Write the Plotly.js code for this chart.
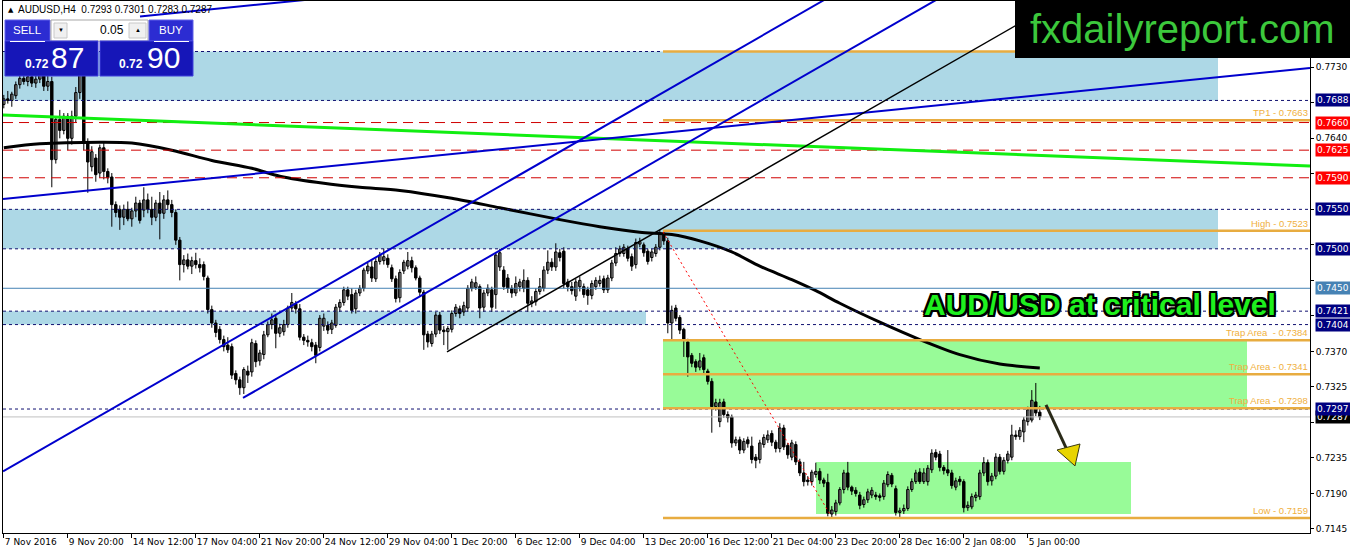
<!DOCTYPE html>
<html><head><meta charset="utf-8">
<script src="https://cdn.plot.ly/plotly-3.0.1.min.js"></script>
<style>html,body{margin:0;padding:0;background:#fff;}#chart{width:1350px;height:554px;}</style>
</head><body><div id="chart"></div>
<script>
// ---- candle data (price x 10000) ----
const opens = [
7683,7690,7688,7694,7708,7716,7712,7718,7710,7715,
7720,7706,7712,7613,7664,7650,7668,7640,7668,7698,
7760,7634,7604,7615,7596,7628,7598,7591,7556,7550,
7540,7550,7538,7548,7558,7549,7562,7550,7540,7558,
7545,7562,7556,7546,7511,7480,7486,7478,7485,7480,
7480,7463,7423,7406,7398,7385,7378,7376,7342,7334,
7324,7345,7344,7380,7358,7366,7391,7404,7412,7393,
7395,7404,7425,7430,7424,7388,7384,7381,7378,7375,
7402,7403,7398,7403,7426,7432,7448,7442,7424,7444,
7450,7472,7477,7462,7484,7485,7488,7476,7462,7438,
7472,7478,7485,7476,7463,7445,7392,7380,7392,7416,
7397,7395,7398,7418,7424,7420,7425,7450,7451,7452,
7426,7444,7448,7442,7477,7473,7463,7450,7444,7452,
7450,7460,7431,7433,7446,7450,7473,7483,7477,7495,
7497,7458,7452,7440,7452,7452,7448,7441,7452,7456,
7462,7448,7463,7482,7494,7494,7500,7490,7480,7506,
7505,7497,7489,7494,7502,7518,7510,7406,7425,7413,
7398,7382,7365,7357,7350,7362,7345,7332,7300,7281,
7306,7290,7287,7254,7258,7245,7258,7250,7236,7233,
7252,7258,7266,7255,7247,7273,7251,7236,7252,7230,
7216,7207,7205,7214,7218,7207,7204,7164,7167,7178,
7195,7216,7198,7194,7188,7176,7182,7188,7188,7187,
7186,7201,7213,7196,7166,7168,7171,7195,7205,7217,
7205,7205,7220,7242,7240,7223,7220,7216,7198,7208,
7205,7172,7173,7185,7186,7216,7229,7206,7212,7236,
7218,7232,7236,7264,7262,7268,7281,7283,7306,7293];
const highs = [
7695,7700,7699,7712,7722,7724,7726,7724,7720,7728,
7726,7722,7718,7668,7676,7672,7672,7675,7705,7778,
7768,7640,7630,7620,7632,7634,7602,7596,7560,7555,
7556,7560,7552,7566,7562,7578,7570,7566,7562,7572,
7568,7574,7562,7550,7515,7492,7494,7490,7495,7488,
7484,7466,7428,7410,7402,7390,7388,7380,7346,7338,
7350,7352,7386,7384,7372,7396,7408,7418,7416,7405,
7410,7428,7444,7434,7430,7392,7390,7386,7382,7416,
7418,7408,7410,7430,7436,7452,7452,7450,7448,7454,
7476,7482,7486,7488,7496,7500,7493,7480,7466,7474,
7486,7496,7490,7479,7466,7448,7396,7396,7420,7420,
7402,7402,7422,7430,7428,7433,7454,7462,7465,7455,
7448,7455,7452,7496,7500,7478,7468,7454,7465,7462,
7474,7464,7440,7450,7463,7478,7498,7488,7507,7500,
7502,7462,7458,7462,7465,7456,7452,7460,7464,7466,
7466,7467,7486,7502,7504,7506,7504,7494,7513,7514,
7508,7500,7500,7506,7524,7523,7514,7428,7429,7416,
7400,7386,7368,7360,7368,7366,7348,7336,7310,7310,
7310,7294,7290,7262,7262,7260,7262,7262,7240,7258,
7265,7270,7270,7258,7279,7277,7254,7258,7256,7234,
7230,7212,7220,7229,7222,7210,7215,7174,7182,7198,
7220,7230,7200,7198,7192,7186,7196,7198,7192,7190,
7207,7218,7216,7200,7172,7176,7199,7209,7220,7222,
7222,7226,7246,7246,7244,7226,7245,7220,7210,7212,
7208,7180,7190,7192,7220,7236,7233,7216,7241,7240,
7236,7244,7277,7270,7274,7287,7300,7321,7330,7301];
const lows = [
7678,7684,7680,7690,7703,7708,7706,7705,7704,7710,
7700,7700,7578,7608,7640,7645,7625,7632,7660,7690,
7625,7571,7598,7585,7590,7588,7583,7528,7540,7524,
7530,7535,7528,7540,7532,7540,7545,7530,7535,7512,
7538,7550,7540,7505,7460,7470,7474,7468,7475,7470,
7460,7418,7400,7388,7380,7370,7368,7335,7328,7315,
7316,7330,7338,7350,7352,7360,7388,7398,7374,7388,
7390,7400,7420,7418,7384,7378,7376,7370,7355,7370,
7396,7392,7392,7400,7420,7428,7435,7418,7418,7440,
7446,7468,7458,7458,7480,7480,7476,7458,7432,7432,
7468,7474,7470,7460,7440,7372,7375,7376,7388,7392,
7378,7372,7394,7414,7412,7415,7420,7446,7448,7412,
7420,7440,7420,7424,7472,7448,7444,7438,7440,7446,
7445,7420,7426,7428,7442,7446,7468,7472,7472,7484,
7450,7446,7442,7434,7446,7438,7429,7436,7448,7452,
7444,7444,7459,7478,7490,7490,7484,7472,7475,7502,
7490,7480,7484,7490,7498,7505,7393,7384,7408,7392,
7363,7338,7350,7344,7346,7342,7328,7267,7295,7274,
7286,7280,7248,7250,7240,7241,7248,7228,7222,7228,
7248,7254,7250,7242,7242,7245,7234,7232,7226,7212,
7199,7200,7200,7210,7202,7198,7161,7160,7162,7175,
7190,7194,7188,7186,7170,7172,7178,7184,7182,7180,
7182,7198,7198,7162,7160,7164,7168,7192,7202,7202,
7202,7200,7216,7232,7218,7214,7212,7196,7194,7200,
7166,7168,7170,7180,7182,7212,7200,7200,7208,7214,
7214,7228,7232,7258,7258,7255,7276,7280,7288,7283];
const closes = [
7690,7688,7696,7708,7716,7712,7718,7710,7715,7720,
7706,7712,7613,7664,7650,7668,7640,7668,7698,7760,
7634,7610,7623,7594,7628,7598,7590,7556,7546,7540,
7550,7538,7548,7558,7536,7562,7550,7540,7558,7545,
7562,7556,7546,7511,7480,7486,7478,7485,7480,7476,
7465,7423,7406,7394,7385,7376,7372,7340,7334,7324,
7347,7340,7381,7357,7368,7391,7404,7410,7393,7400,
7404,7425,7432,7424,7388,7384,7382,7376,7365,7412,
7412,7397,7406,7426,7432,7448,7440,7422,7444,7450,
7473,7478,7463,7484,7492,7490,7480,7462,7437,7470,
7483,7485,7476,7463,7445,7391,7382,7392,7416,7397,
7395,7399,7418,7426,7418,7428,7450,7458,7457,7425,
7444,7450,7426,7492,7495,7452,7450,7444,7456,7458,
7460,7431,7434,7446,7452,7473,7483,7477,7496,7489,
7456,7452,7447,7458,7460,7442,7441,7456,7460,7460,
7448,7463,7482,7494,7500,7502,7488,7478,7508,7509,
7495,7484,7496,7502,7520,7510,7406,7422,7412,7397,
7385,7363,7355,7350,7358,7347,7332,7300,7305,7305,
7290,7286,7254,7258,7245,7256,7253,7233,7232,7254,
7261,7264,7255,7247,7273,7249,7239,7254,7230,7216,
7205,7205,7217,7218,7207,7203,7165,7169,7178,7195,
7216,7198,7193,7190,7175,7182,7192,7194,7186,7185,
7203,7214,7202,7166,7168,7171,7195,7205,7216,7205,
7216,7222,7241,7236,7223,7219,7216,7200,7206,7205,
7172,7175,7186,7188,7216,7229,7205,7212,7236,7218,
7232,7240,7264,7262,7270,7283,7296,7308,7292,7287];

const tickIndex = [0,16,32,48,64,80,96,112,128,144,160,176,192,208,224,240,256];
const tickLabels = ['7 Nov 2016','9 Nov 20:00','14 Nov 12:00','17 Nov 04:00','21 Nov 20:00','24 Nov 12:00','29 Nov 04:00','1 Dec 20:00','6 Dec 12:00','9 Dec 04:00','13 Dec 20:00','16 Dec 12:00','21 Dec 04:00','23 Dec 20:00','28 Dec 16:00','2 Jan 08:00','5 Jan 00:00'];
const priceTicks = [0.7730,0.7685,0.7640,0.7595,0.7550,0.7505,0.7460,0.7415,0.7370,0.7325,0.7280,0.7235,0.7190,0.7145];
// labels hidden behind the coloured price boxes are left blank
const priceTickText = ['0.7730','','0.7640','','','','','','0.7370','0.7325','','0.7235','0.7190','0.7145'];

// moving average
const maIndex = [0,9,24,32,42,52,62,69,80,89,99,112,124,139,149,159,167,174,182,189,197,203,209,219,229,239,249,259];
const maValues = [0.7628,0.7633,0.7635,0.7634,0.7625,0.7612,0.7602,0.7592,0.7583,0.7578,0.7574,0.7564,0.7552,0.7537,0.7528,0.7521,0.7518,0.7510,0.7496,0.7478,0.7461,0.7447,0.7431,0.7407,0.7385,0.7366,0.7354,0.7349];

// horizontal levels
const dashedLevels = [0.7750,0.7688,0.7550,0.7500,0.7421,0.7404,0.7297];
const redLevels = [0.7660,0.7625,0.7590];
const orangeLevels = [0.7750,0.7663,0.7523,0.7384,0.7341,0.7298,0.7159];
const orangeLabels = ['', 'TP1 - 0.7663','High - 0.7523','Trap Area&nbsp; - 0.7384','Trap Area - 0.7341','Trap Area - 0.7298','Low - 0.7159'];
const boxLevels = [0.7688,0.7660,0.7625,0.7590,0.7550,0.7500,0.7450,0.7421,0.7404,0.7287,0.7297];
const boxColors = ['#000080','#ff0000','#ff0000','#ff0000','#000080','#000080','#4682b4','#000080','#000080','#000000','#000080'];

// zones [x0, x1, y0, y1] in bar index / price
const blueZones = [[-0.2,303.55,0.7688,0.7750],[-0.2,303.55,0.7500,0.7550],[-0.2,160.55,0.7404,0.7421]];
const greenZones = [[164.8,310.8,0.7298,0.7384],[203.05,281.8,0.7164,0.7230]];

// trend lines [x0, y0, x1, y1]
const blueLines = [[-0.2,0.75631,326.55,0.77291],[34.05,0.77944,80,0.78177],[-0.2,0.7218,205,0.7815],[59.8,0.7311,234,0.7818]];
const blackLine = [110.8,0.73693,264.3,0.78158];
const greenLine = [-0.2,0.76696,326.55,0.76049];
const redDotLine = [164.8,0.75213,206.8,0.71615];

const X0 = -0.2, X1 = 326.55;
const PX = x => (x-3)/1307;
const PY = y => (533-y)/532;

// ---- traces ----
const wx = [], wy = [];
const bullX=[], bullB=[], bullH=[], bearX=[], bearB=[], bearH=[];
for (let i=0;i<opens.length;i++){
  wx.push(i,i,null); wy.push(lows[i]/1e4, highs[i]/1e4, null);
  const o=opens[i]/1e4, c=closes[i]/1e4;
  const h = Math.max(Math.abs(c-o), 0.00004);
  if (c>=o){ bullX.push(i); bullB.push(Math.min(o,c)); bullH.push(h); }
  else { bearX.push(i); bearB.push(Math.min(o,c)); bearH.push(h); }
}
const traces = [
  {type:'scatter',mode:'lines',x:wx,y:wy,line:{color:'#000',width:1},hoverinfo:'skip',showlegend:false},
  {type:'bar',x:bullX,base:bullB,y:bullH,width:0.6,marker:{color:'#ffffff',line:{color:'#000',width:1}},hoverinfo:'skip',showlegend:false},
  {type:'bar',x:bearX,base:bearB,y:bearH,width:0.6,marker:{color:'#000000',line:{color:'#000',width:1}},hoverinfo:'skip',showlegend:false},
  {type:'scatter',mode:'lines',x:maIndex,y:maValues,line:{color:'#000',width:3,shape:'spline',smoothing:0.8},hoverinfo:'skip',showlegend:false}
];

// ---- shapes ----
const shapes = [];
blueZones.forEach(z=>shapes.push({type:'rect',xref:'x',yref:'y',x0:z[0],x1:z[1],y0:z[2],y1:z[3],fillcolor:'#add8e6',line:{width:0},layer:'below'}));
greenZones.forEach(z=>shapes.push({type:'rect',xref:'x',yref:'y',x0:z[0],x1:z[1],y0:z[2],y1:z[3],fillcolor:'#98fb98',line:{width:0},layer:'below'}));
shapes.push({type:'line',xref:'x',yref:'y',x0:X0,x1:X1,y0:0.7450,y1:0.7450,line:{color:'#4682b4',width:1},layer:'above'});
shapes.push({type:'line',xref:'x',yref:'y',x0:X0,x1:X1,y0:0.7287,y1:0.7287,line:{color:'#c0c0c0',width:1},layer:'above'});
dashedLevels.forEach(v=>shapes.push({type:'line',xref:'x',yref:'y',x0:X0,x1:X1,y0:v,y1:v,line:{color:'#101070',width:1,dash:'3px,3px'},layer:'above'}));
redLevels.forEach(v=>shapes.push({type:'line',xref:'x',yref:'y',x0:X0,x1:X1,y0:v,y1:v,line:{color:'#d00000',width:1,dash:'10px,6px'},layer:'above'}));
orangeLevels.forEach(v=>shapes.push({type:'line',xref:'x',yref:'y',x0:164.8,x1:X1,y0:v,y1:v,line:{color:'#e8ac40',width:2.5},layer:'above'}));
shapes.push({type:'line',xref:'x',yref:'y',x0:greenLine[0],y0:greenLine[1],x1:greenLine[2],y1:greenLine[3],line:{color:'#11ee11',width:3},layer:'above'});
blueLines.forEach(l=>shapes.push({type:'line',xref:'x',yref:'y',x0:l[0],y0:l[1],x1:l[2],y1:l[3],line:{color:'#0000cd',width:2},layer:'above'}));
shapes.push({type:'line',xref:'x',yref:'y',x0:blackLine[0],y0:blackLine[1],x1:blackLine[2],y1:blackLine[3],line:{color:'#000',width:1.5},layer:'above'});
shapes.push({type:'line',xref:'x',yref:'y',x0:redDotLine[0],y0:redDotLine[1],x1:redDotLine[2],y1:redDotLine[3],line:{color:'#ff0000',width:1,dash:'2px,3px'},layer:'above'});
// arrow
shapes.push({type:'line',xref:'x',yref:'y',x0:260.55,y0:0.73021,x1:265.8,y1:0.72451,line:{color:'#2a2a18',width:3},layer:'above'});
shapes.push({type:'path',xref:'x',yref:'y',path:'M 263.3,0.72451 L 269.05,0.72527 L 267.8,0.72249 Z',fillcolor:'#e8d400',line:{color:'#3a3a10',width:1},layer:'above'});

// trade panel
function rectPx(x0,y0,x1,y1,fill,lc){shapes.push({type:'rect',xref:'paper',yref:'paper',x0:PX(x0),x1:PX(x1),y0:PY(y1),y1:PY(y0),fillcolor:fill,line:{color:lc||fill,width:1},layer:'above'});}
rectPx(5,20,50,41,'#2c2cd2','#6060e8');
rectPx(51,20,148,41,'#ffffff','#a8a8a8');
rectPx(54,23,67,38,'#f0f0f0','#c8c8c8');
rectPx(129,23,146,38,'#f0f0f0','#c8c8c8');
rectPx(149,20,193,41,'#2c2cd2','#6060e8');
rectPx(5,41,98,76,'#1616b8','#4040dc');
rectPx(100,41,193,76,'#1616b8','#4040dc');
shapes.push({type:'line',xref:'paper',yref:'paper',x0:PX(10),x1:PX(45),y0:PY(41.5),y1:PY(41.5),line:{color:'#ffffff',width:1},layer:'above'});
shapes.push({type:'line',xref:'paper',yref:'paper',x0:PX(154),x1:PX(189),y0:PY(41.5),y1:PY(41.5),line:{color:'#ffffff',width:1},layer:'above'});
// watermark box
shapes.push({type:'rect',xref:'paper',yref:'paper',x0:PX(1015),x1:PX(1352),y0:PY(58),y1:PY(-2),fillcolor:'#000000',line:{width:0},layer:'above'});

// ---- annotations ----
const ann = [];
orangeLevels.forEach((v,k)=>{ if(orangeLabels[k]) ann.push({xref:'x',yref:'y',x:326.3,y:v,xanchor:'right',yanchor:'bottom',yshift:1,text:orangeLabels[k],showarrow:false,font:{family:'Liberation Sans',size:9.5,color:'#f0b040'},borderpad:0}); });
boxLevels.forEach((v,k)=>ann.push({xref:'paper',yref:'y',x:PX(1315),y:v,xanchor:'left',yanchor:'middle',text:v.toFixed(4),showarrow:false,bgcolor:boxColors[k],borderpad:1,font:{family:'DejaVu Sans',size:9,color:'#ffffff'}}));
ann.push({xref:'paper',yref:'paper',x:PX(1100),y:PY(304),xanchor:'center',yanchor:'middle',text:'AUD/USD at critical level',showarrow:false,
  font:{family:'Liberation Sans',size:30,weight:'bold',color:'#1ef01e',shadow:'-2px -2px 0 #000, 2px -2px 0 #000, -2px 2px 0 #000, 2px 2px 0 #000, 0 2px 0 #000, 0 -2px 0 #000, 2px 0 0 #000, -2px 0 0 #000'}});
ann.push({xref:'paper',yref:'paper',x:PX(1182),y:PY(29),xanchor:'center',yanchor:'middle',text:'fxdailyreport.com',showarrow:false,font:{family:'Liberation Sans',size:40,color:'#3cc83c'}});
ann.push({xref:'paper',yref:'paper',x:PX(6),y:PY(10),xanchor:'left',yanchor:'middle',text:'▲',showarrow:false,font:{family:'DejaVu Sans',size:7,color:'#000'}});
ann.push({xref:'paper',yref:'paper',x:PX(16),y:PY(10),xanchor:'left',yanchor:'middle',text:'AUDUSD,H4&nbsp; 0.7293 0.7301 0.7283 0.7287',showarrow:false,font:{family:'Liberation Sans',size:10,color:'#000'}});
// panel texts
function txt(x,y,t,size,color,anchor,bold){ann.push({xref:'paper',yref:'paper',x:PX(x),y:PY(y),xanchor:anchor||'center',yanchor:'middle',text:t,showarrow:false,font:{family:'Liberation Sans',size:size,color:color,weight:bold?'bold':'normal'}});}
txt(27,30.5,'SELL',11.5,'#ffffff');
txt(171,30.5,'BUY',11.5,'#ffffff');
txt(126,30.5,'0.05',12,'#000000','right');
txt(60.5,30.5,'▼',6,'#000000');
txt(137.5,30.5,'▲',6,'#000000');
txt(37,64,'0.72',12,'#ffffff','center',true);
txt(67,58,'87',30,'#ffffff');
txt(131,64,'0.72',12,'#ffffff','center',true);
txt(163,58,'90',30,'#ffffff');

const layout = {
  width:1350,height:554,margin:{l:3,r:40,t:1,b:21},
  paper_bgcolor:'#ffffff',plot_bgcolor:'#ffffff',
  barmode:'overlay',showlegend:false,hovermode:false,
  xaxis:{range:[X0,X1],tickvals:tickIndex,ticktext:tickLabels,ticks:'outside',ticklen:4,tickcolor:'#000',tickangle:0,
    ticklabelposition:'outside right',tickfont:{family:'DejaVu Sans',size:9,color:'#000'},
    showgrid:false,zeroline:false,showline:true,linecolor:'#000',linewidth:1,mirror:true},
  yaxis:{side:'right',range:[0.71399,0.78140],tickvals:priceTicks,ticktext:priceTickText,ticks:'outside',ticklen:3,tickcolor:'#000',
    tickfont:{family:'DejaVu Sans',size:9,color:'#000'},showgrid:false,zeroline:false,showline:true,linecolor:'#000',linewidth:1,mirror:true},
  shapes:shapes,annotations:ann
};
Plotly.newPlot('chart',traces,layout,{staticPlot:true,displayModeBar:false});
</script></body></html>
